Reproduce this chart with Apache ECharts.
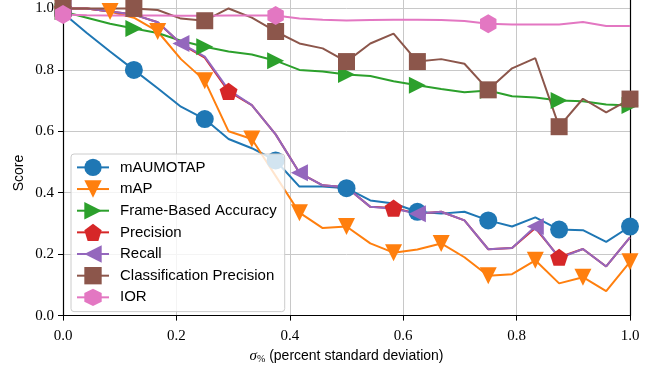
<!DOCTYPE html>
<html>
  <head>
    <meta charset="UTF-8" />
    <title></title>
    <style type="text/css">
      html,
      body {
        width: 100%;
        height: 100%;
        margin: 0;
        padding: 0;
        overflow: hidden;
        background: #fff;
      }
      #chart {
        width: 649px;
        height: 369px;
      }
    </style>
  </head>
  <body>
    <div id="chart"></div>
    <script src="https://cdn.jsdelivr.net/npm/echarts@6/dist/echarts.min.js"></script>
    <script type="text/javascript">
      // sigma values (x)
      const sigma = [0, 0.042, 0.083, 0.125, 0.167, 0.208, 0.25, 0.292, 0.333, 0.375, 0.417, 0.458, 0.5,
        0.542, 0.583, 0.625, 0.667, 0.708, 0.75, 0.792, 0.833, 0.875, 0.917, 0.958, 1.0];

      const mAUMOTAP = [0.985, 0.92, 0.86, 0.8, 0.74, 0.68, 0.64, 0.575, 0.545, 0.505, 0.42, 0.42, 0.415,
        0.375, 0.365, 0.338, 0.332, 0.338, 0.31, 0.29, 0.32, 0.28, 0.278, 0.24, 0.29];
      const mAP = [1.0, 1.0, 0.99, 0.97, 0.925, 0.835, 0.765, 0.6, 0.575, 0.455, 0.335, 0.285, 0.29,
        0.235, 0.205, 0.215, 0.235, 0.19, 0.13, 0.135, 0.18, 0.105, 0.125, 0.08, 0.175];
      const frameAcc = [0.99, 0.97, 0.95, 0.935, 0.92, 0.895, 0.875, 0.86, 0.85, 0.83, 0.8, 0.795, 0.785,
        0.78, 0.763, 0.75, 0.738, 0.727, 0.733, 0.714, 0.71, 0.7, 0.698, 0.687, 0.684];
      const precision = [1.0, 1.0, 0.99, 0.98, 0.955, 0.885, 0.84, 0.73, 0.685, 0.59, 0.465, 0.424, 0.418,
        0.354, 0.35, 0.332, 0.338, 0.31, 0.216, 0.22, 0.285, 0.19, 0.217, 0.16, 0.255];
      const recall = [1.0, 1.0, 0.99, 0.98, 0.955, 0.886, 0.843, 0.735, 0.685, 0.59, 0.465, 0.424, 0.418,
        0.354, 0.348, 0.332, 0.338, 0.31, 0.216, 0.22, 0.29, 0.187, 0.217, 0.16, 0.255];
      const classPrec = [1.0, 1.0, 1.0, 1.0, 0.995, 0.967, 0.96, 1.0, 0.97, 0.925, 0.886, 0.87, 0.827,
        0.886, 0.918, 0.827, 0.835, 0.82, 0.735, 0.805, 0.838, 0.615, 0.706, 0.662, 0.705];
      const ior = [0.98, 0.978, 0.977, 0.977, 0.977, 0.976, 0.976, 0.977, 0.977, 0.977, 0.967, 0.963, 0.961,
        0.962, 0.963, 0.963, 0.962, 0.959, 0.95, 0.948, 0.948, 0.948, 0.956, 0.943, 0.943];

      const yTicks = [0, 0.2, 0.4, 0.6, 0.8, 1.0];

      const pentagon = "path://M0,-1L0.951,-0.309L0.588,0.809L-0.588,0.809L-0.951,-0.309Z";
      const hexagon = "path://M0,-1L0.866,-0.5L0.866,0.5L0,1L-0.866,0.5L-0.866,-0.5Z";

      // marker only every n-th point, like markevery
      const makeSeries = (name, ys, color, symbol, size, every, rotate) => ({
        name: name,
        type: "line",
        symbol: symbol,
        symbolSize: size,
        symbolRotate: rotate || 0,
        symbolKeepAspect: true,
        showAllSymbol: true,
        color: color,
        lineStyle: { color: color, width: 2 },
        itemStyle: { color: color, borderWidth: 0, opacity: 1 },
        data: ys.map((y, i) =>
          i % every === 0 ? [sigma[i], y] : { value: [sigma[i], y], symbol: "none" }
        ),
      });

      const chart = echarts.init(document.getElementById("chart"), null, { renderer: "canvas" });
      const serif = "Liberation Serif";
      const sans = "Liberation Sans";

      chart.setOption({
        animation: false,
        backgroundColor: "#fff",
        grid: { left: 63, right: 19, top: 0, bottom: 51, containLabel: false },
        xAxis: {
          type: "value",
          min: 0,
          max: 1,
          interval: 0.2,
          axisLine: { show: true, onZero: false, lineStyle: { color: "#000", width: 1.2 } },
          axisTick: { show: true, length: 5, lineStyle: { color: "#000", width: 1 } },
          axisLabel: {
            margin: 13,
            color: "#000",
            fontFamily: serif,
            fontSize: 15,
            formatter: (v) => v.toFixed(1),
          },
          splitLine: { show: true, lineStyle: { color: "#c8c8c8", width: 1 } },
          name: "{s|σ}{p|%} (percent standard deviation)",
          nameLocation: "middle",
          nameGap: 31,
          nameTextStyle: {
            color: "#000",
            fontFamily: sans,
            fontSize: 14,
            rich: {
              s: { fontFamily: serif, fontStyle: "italic", fontSize: 15, color: "#000" },
              p: { fontFamily: serif, fontSize: 10, color: "#000", verticalAlign: "bottom", padding: [6, 0, 0, 0] },
            },
          },
        },
        yAxis: [
          {
            type: "value",
            min: 0,
            max: 1.0275,
            interval: 0.2,
            axisLine: { show: true, onZero: false, lineStyle: { color: "#000", width: 1.2 } },
            axisTick: { show: true, length: 5, lineStyle: { color: "#000", width: 1 }, customValues: yTicks },
            axisLabel: {
              margin: 9,
              color: "#000",
              fontFamily: serif,
              fontSize: 15,
              customValues: yTicks,
              formatter: (v) => v.toFixed(1),
            },
            splitLine: { show: true, lineStyle: { color: "#c8c8c8", width: 1 } },
          },
          {
            type: "value",
            position: "right",
            min: 0,
            max: 1.0275,
            axisLine: { show: true, onZero: false, lineStyle: { color: "#000", width: 1.2 } },
            axisTick: { show: false },
            axisLabel: { show: false },
            splitLine: { show: false },
          },
        ],
        legend: {
          orient: "vertical",
          left: 71,
          top: 154,
          itemWidth: 32,
          itemHeight: 21.7,
          itemGap: 4.3,
          padding: [4.7, 8, 5.6, 5],
          backgroundColor: "rgba(255,255,255,0.8)",
          borderColor: "#cccccc",
          borderWidth: 1,
          borderRadius: 3,
          textStyle: { fontFamily: sans, fontSize: 15, color: "#000", padding: [0, 0, 0, 6] },
        },
        graphic: [
          {
            type: "text",
            x: 19,
            y: 173,
            rotation: Math.PI / 2,
            style: {
              text: "Score",
              fontFamily: sans,
              fontSize: 14,
              fill: "#000",
              align: "center",
              verticalAlign: "middle",
            },
          },
        ],
        series: [
          makeSeries("mAUMOTAP", mAUMOTAP, "#1f77b4", "circle", 18, 3),
          makeSeries("mAP", mAP, "#ff7f0e", "triangle", 17, 2, 180),
          makeSeries("Frame-Based Accuracy", frameAcc, "#2ca02c", "triangle", 17, 3, -90),
          makeSeries("Precision", precision, "#d62728", pentagon, 18, 7),
          makeSeries("Recall", recall, "#9467bd", "triangle", 17, 5, 90),
          makeSeries("Classification Precision", classPrec, "#8c564b", "rect", 17, 3),
          makeSeries("IOR", ior, "#e377c2", hexagon, 19, 9),
        ],
      });
    </script>
  </body>
</html>
